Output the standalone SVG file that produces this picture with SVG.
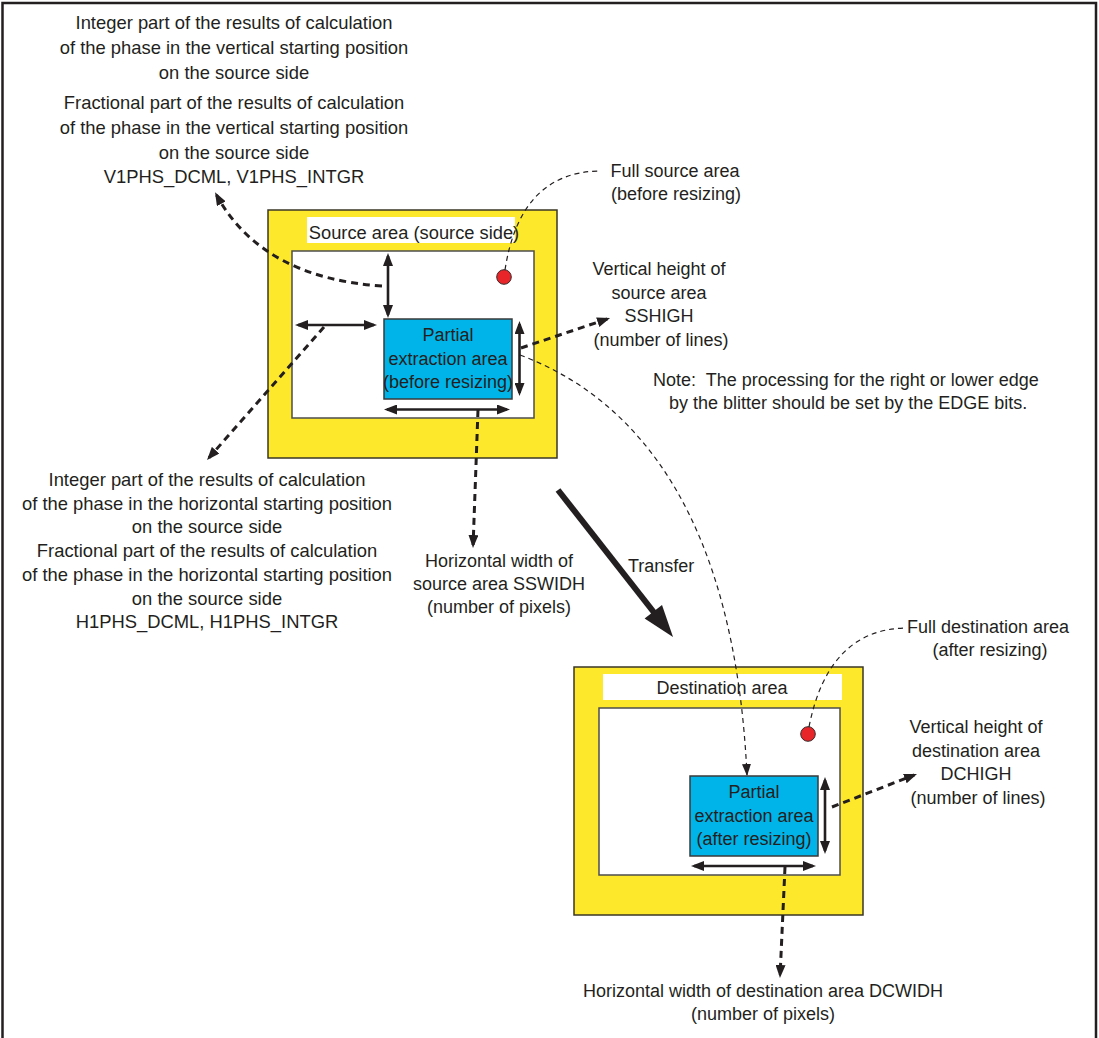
<svg xmlns="http://www.w3.org/2000/svg" width="1099" height="1038" viewBox="0 0 1099 1038">
<style>
text{font-family:"Liberation Sans",Arial,sans-serif;font-size:18px;fill:#231f20}
.c{text-anchor:middle}
.big text{font-size:18.4px}
.outer{fill:#fde82b;stroke:#3a3626;stroke-width:1.5}
.lbl{fill:#ffffff;stroke:none}
.inner{fill:#ffffff;stroke:#4d4d4d;stroke-width:1.5}
.blue{fill:#00b4ea;stroke:#3a3a3a;stroke-width:1.5}
.dot{fill:#e8262a;stroke:#3a2a2a;stroke-width:1}
.dbl{stroke:#231f20;stroke-width:2.6;fill:none;marker-start:url(#ah);marker-end:url(#ah)}
.tdash{stroke:#231f20;stroke-width:3;stroke-dasharray:7 5;fill:none;marker-end:url(#ah)}
.thin{stroke:#231f20;stroke-width:1.2;stroke-dasharray:5 4;fill:none}
</style>
<defs>
<marker id="ah" viewBox="0 0 13 10" refX="10" refY="5" markerWidth="13" markerHeight="10" markerUnits="userSpaceOnUse" orient="auto-start-reverse">
<path d="M0,0 L13,5 L0,10 z" fill="#231f20"/>
</marker>
<marker id="ahs" viewBox="0 0 12 9" refX="11" refY="4.5" markerWidth="12" markerHeight="9" markerUnits="userSpaceOnUse" orient="auto">
<path d="M0,0 L12,4.5 L0,9 z" fill="#231f20"/>
</marker>
</defs>
<path d="M2.5,1040 V3 H1096 V1040" fill="none" stroke="#231f20" stroke-width="2.5"/>

<g id="source-area">
<rect class="outer" x="268" y="210" width="289" height="248"/>
<rect class="lbl" x="307" y="217" width="208" height="26"/>
<text class="c" x="414" y="239" style="font-size:18.3px">Source area (source side)</text>
<rect class="inner" x="292" y="251" width="242" height="167"/>
<circle class="dot" cx="504" cy="277" r="7.3"/>
</g>
<g id="source-partial">
<rect class="blue" x="384" y="319" width="128" height="80"/>
<text class="c" x="448" y="341">Partial</text>
<text class="c" x="448" y="365">extraction area</text>
<text class="c" x="448" y="388">(before resizing)</text>
</g>

<g id="dest-area">
<rect class="outer" x="574" y="667" width="289" height="248"/>
<rect class="lbl" x="603" y="674" width="239" height="26"/>
<text class="c" x="722" y="694">Destination area</text>
<rect class="inner" x="599" y="708" width="241" height="167"/>
<circle class="dot" cx="808" cy="734" r="7.3"/>
</g>
<g id="dest-partial">
<rect class="blue" x="690" y="776" width="128" height="80"/>
<text class="c" x="754" y="798">Partial</text>
<text class="c" x="754" y="822">extraction area</text>
<text class="c" x="754" y="845">(after resizing)</text>
</g>

<g id="label-v1phs" class="big">
<text class="c" x="234" y="29">Integer part of the results of calculation</text>
<text class="c" x="234" y="54">of the phase in the vertical starting position</text>
<text class="c" x="234" y="78.5">on the source side</text>
<text class="c" x="234" y="109">Fractional part of the results of calculation</text>
<text class="c" x="234" y="134">of the phase in the vertical starting position</text>
<text class="c" x="234" y="158.5">on the source side</text>
<text class="c" x="234" y="182.5">V1PHS_DCML, V1PHS_INTGR</text>
</g>
<g id="label-h1phs" class="big">
<text class="c" x="207" y="486">Integer part of the results of calculation</text>
<text class="c" x="207" y="510">of the phase in the horizontal starting position</text>
<text class="c" x="207" y="533">on the source side</text>
<text class="c" x="207" y="557">Fractional part of the results of calculation</text>
<text class="c" x="207" y="581">of the phase in the horizontal starting position</text>
<text class="c" x="207" y="605">on the source side</text>
<text class="c" x="207" y="628">H1PHS_DCML, H1PHS_INTGR</text>
</g>
<g id="label-full-source">
<text class="c" x="675" y="177">Full source area</text>
<text class="c" x="676" y="200">(before resizing)</text>
</g>
<g id="label-sshigh">
<text class="c" x="659" y="275">Vertical height of</text>
<text class="c" x="659" y="298.5">source area</text>
<text class="c" x="659" y="322">SSHIGH</text>
<text class="c" x="661" y="345.5">(number of lines)</text>
</g>
<g id="label-note">
<text x="653" y="386">Note:&#160; The processing for the right or lower edge</text>
<text x="669" y="409">by the blitter should be set by the EDGE bits.</text>
</g>
<g id="label-sswidh">
<text class="c" x="499" y="567">Horizontal width of</text>
<text class="c" x="499" y="590">source area SSWIDH</text>
<text class="c" x="499" y="613">(number of pixels)</text>
</g>
<g id="label-transfer">
<text x="628" y="572">Transfer</text>
</g>
<g id="label-full-dest">
<text class="c" x="988" y="633">Full destination area</text>
<text class="c" x="990" y="656">(after resizing)</text>
</g>
<g id="label-dchigh">
<text class="c" x="976" y="733">Vertical height of</text>
<text class="c" x="976" y="756.5">destination area</text>
<text class="c" x="976" y="780">DCHIGH</text>
<text class="c" x="978" y="803.5">(number of lines)</text>
</g>
<g id="label-dcwidh">
<text class="c" x="763" y="997">Horizontal width of destination area DCWIDH</text>
<text class="c" x="763" y="1020">(number of pixels)</text>
</g>

<g id="connectors">
<line class="dbl" x1="388" y1="256" x2="388" y2="315"/>
<line class="dbl" x1="298" y1="325" x2="374" y2="325"/>
<line class="dbl" x1="519.5" y1="324" x2="519.5" y2="393"/>
<line class="dbl" x1="387" y1="409.5" x2="507" y2="409.5"/>
<line class="dbl" x1="825" y1="780" x2="825" y2="851"/>
<line class="dbl" x1="694" y1="866" x2="813" y2="866"/>

<path class="tdash" d="M382,286 Q262,278 216.5,195"/>
<path class="tdash" d="M324,327 L209,457.7"/>
<path class="tdash" d="M478,410 L473.1,545"/>
<path class="tdash" d="M521,348 L607.2,319"/>
<path class="tdash" d="M785,867 L780.1,975"/>
<path class="tdash" d="M832,807 L914.2,775"/>

<path class="thin" d="M505,270 Q520,172 600,171"/>
<path class="thin" d="M809,727 Q828,630 905,628"/>
<path class="thin" d="M520,355 C640,400 735,520 747,775" marker-end="url(#ahs)"/>

<line x1="558" y1="490" x2="656" y2="615" stroke="#231f20" stroke-width="6"/>
<polygon points="673,637 644.6,618.6 662,605" fill="#231f20"/>
</g>
</svg>
